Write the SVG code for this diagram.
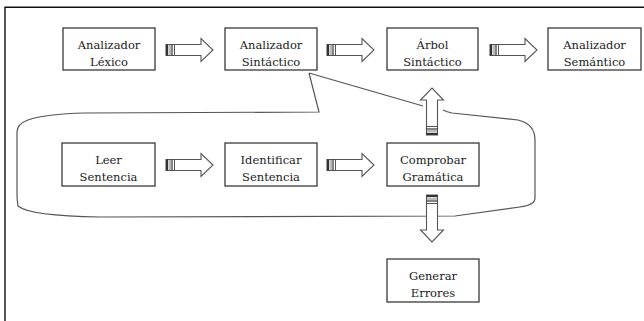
<svg xmlns="http://www.w3.org/2000/svg" width="644" height="321" viewBox="0 0 644 321">
<style>
.box{fill:#fff;stroke:#3a3a3a;stroke-width:1.3}
.t{font-family:"DejaVu Serif","Liberation Serif",serif;font-size:11.5px;fill:#222;text-anchor:middle}
.frame{fill:none;stroke:#111;stroke-width:1.4}
.balloon{fill:none;stroke:#555;stroke-width:1.2}
.arr{fill:#fff;stroke:#555;stroke-width:1.1}
</style>
<defs>
<g id="arrow">
<path class="arr" d="M0,-5.5 H35 V-11.5 L47,0 L35,11.5 V5.5 H0 Z"/>
<rect x="0" y="-5.5" width="2.2" height="11" fill="#333"/>
<line x1="4" y1="-5.5" x2="4" y2="5.5" stroke="#777" stroke-width="1"/>
<line x1="6" y1="-5.5" x2="6" y2="5.5" stroke="#333" stroke-width="1.2"/>
<line x1="8.5" y1="-5.5" x2="8.5" y2="5.5" stroke="#555" stroke-width="1"/>
</g>
</defs>
<rect width="644" height="321" fill="#fff"/>
<path class="frame" d="M5,321 V7.3 H644"/>
<g id="connectors">
<path class="balloon" d="M309,73 L423,106 M443,110 Q447,112 452,113 L518,120 Q535,124 535,140 L535,198 Q535,205 520,207 L455,216 L100,217 Q30,216 18,206 Q17,200 17,195 L17,132 Q17,124 28,120 Q45,114 85,113 L319,112 L309,73"/>
<use href="#arrow" transform="translate(166,50)"/>
<use href="#arrow" transform="translate(327,50)"/>
<use href="#arrow" transform="translate(490,50)"/>
<use href="#arrow" transform="translate(166,165)"/>
<use href="#arrow" transform="translate(327,165)"/>
<use href="#arrow" transform="translate(432,135) rotate(-90)"/>
<use href="#arrow" transform="translate(432,195) rotate(90)"/>
</g>
<g id="lexico"><rect class="box" x="63" y="28" width="92" height="42"/><text class="t" x="109" y="48.5">Analizador</text><text class="t" x="109" y="65.5">Léxico</text></g>
<g id="sintactico"><rect class="box" x="225" y="28" width="92" height="42"/><text class="t" x="271" y="48.5">Analizador</text><text class="t" x="271" y="65.5">Sintáctico</text></g>
<g id="arbol"><rect class="box" x="387" y="28" width="91" height="42"/><text class="t" x="432.5" y="48.5">Árbol</text><text class="t" x="432.5" y="65.5">Sintáctico</text></g>
<g id="semantico"><rect class="box" x="548" y="28" width="93" height="42"/><text class="t" x="594.5" y="48.5">Analizador</text><text class="t" x="594.5" y="65.5">Semántico</text></g>
<g id="leer"><rect class="box" x="62" y="143" width="93" height="43"/><text class="t" x="108.5" y="163.5">Leer</text><text class="t" x="108.5" y="181">Sentencia</text></g>
<g id="identificar"><rect class="box" x="225" y="143" width="92" height="43"/><text class="t" x="271" y="163.5">Identificar</text><text class="t" x="271" y="181">Sentencia</text></g>
<g id="comprobar"><rect class="box" x="387" y="143" width="92" height="43"/><text class="t" x="433" y="163.5">Comprobar</text><text class="t" x="433" y="181">Gramática</text></g>
<g id="generar"><rect class="box" x="387" y="259" width="92" height="43"/><text class="t" x="433" y="279.5">Generar</text><text class="t" x="433" y="297">Errores</text></g>
</svg>
